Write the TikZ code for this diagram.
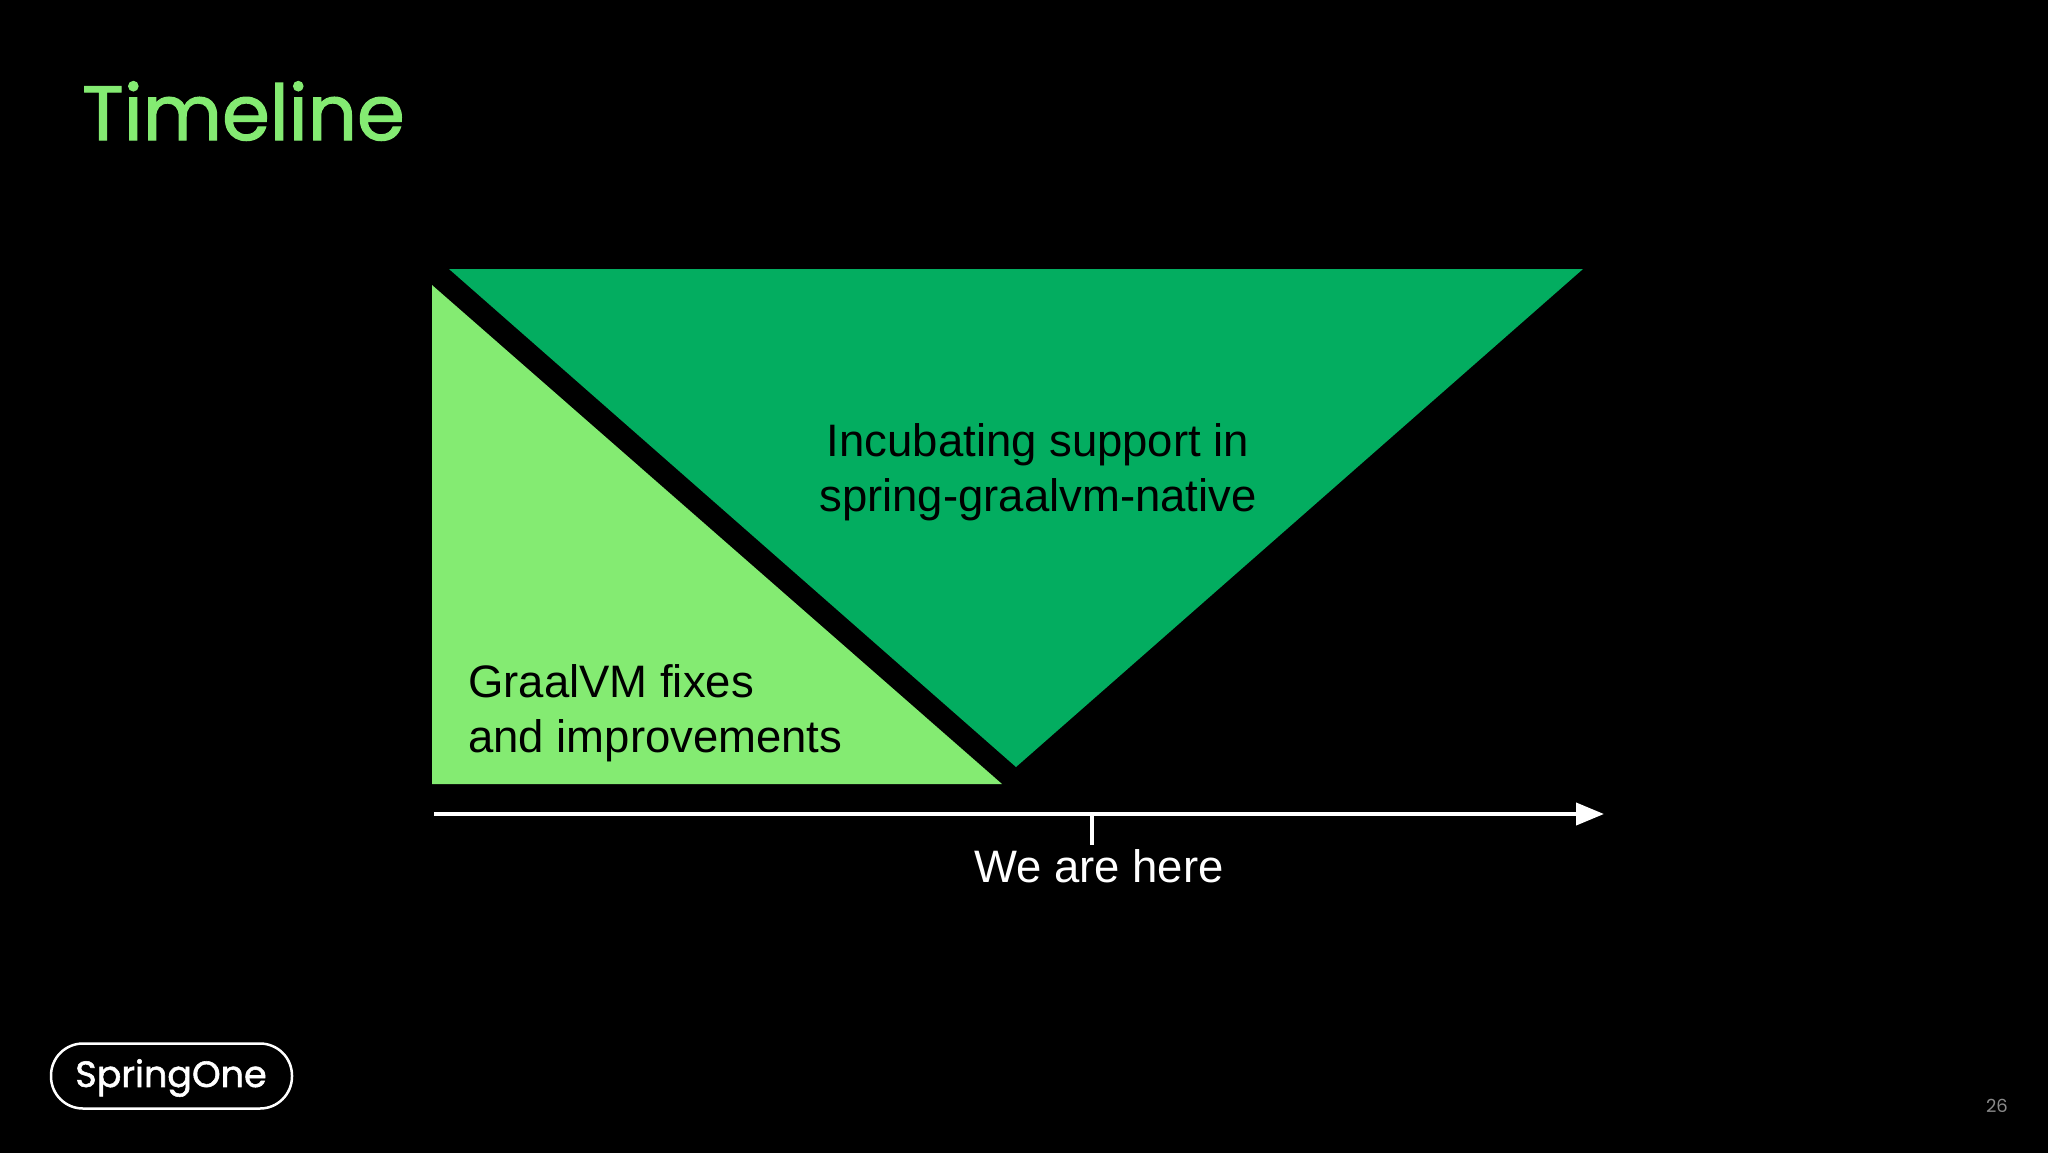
\documentclass[tikz,border=0pt]{standalone}
\usepackage{fontspec}
\setmainfont{Liberation Sans}
\newfontfamily\logofont[FakeBold = 1.5]{Poppins}
\newfontfamily\pagefont{Poppins}
\usetikzlibrary{arrows.meta}
\definecolor{lightgreen}{HTML}{84EB72}
\definecolor{darkgreen}{HTML}{03AD60}
\definecolor{pagegrey}{HTML}{8A8A8A}
\tikzset{
	slidetext/.style = {inner sep = 0, align = left, font = \fontsize{45.5}{55.5}\selectfont},
	axisline/.style = {draw = white, line width = 4pt},
}

\begin{document}
\begin{tikzpicture}[x = 1pt, y = -1pt]
		\useasboundingbox (0, 0) rectangle (2048, 1152);
		\fill [black] (-3, -3) rectangle (2051, 1155);
		%%%%%%%%%%%%%
		\node (title) [anchor = base west, inner sep = 0, text = lightgreen, font = \logofont\fontsize{77}{77}\selectfont] at (82, 140) {Timeline};
		%%%%%%%%%%%%%
		\coordinate (a1) at (432, 285); \coordinate (a2) at (432, 784); \coordinate (a3) at (1002, 784);
		\coordinate (b1) at (449, 269); \coordinate (b2) at (1583, 269); \coordinate (b3) at (1016, 767);
		\fill [lightgreen] (a1) -- (a2) -- (a3) -- cycle;
		\fill [darkgreen] (b1) -- (b2) -- (b3) -- cycle;
		\node (graal) [slidetext, anchor = north west] at (468, 664) {GraalVM fixes\\and improvements};
		\node (incub) [slidetext, align = center] at (1038, 472) {Incubating support in\\spring-graalvm-native};
		%%%%%%%%%%%%%
		\coordinate (t0) at (434, 814); \coordinate (t1) at (1604, 814);
		\coordinate (m0) at (1092, 816); \coordinate (m1) at (1092, 845);
		\draw [axisline, -{Triangle[length = 28pt, width = 22pt]}] (t0) to (t1);
		\draw [axisline] (m0) to (m1);
		\node (here) [slidetext, text = white, anchor = north] at (1099, 849) {We are here};
		%%%%%%%%%%%%%
		\node (logo) [draw = white, line width = 2.5pt, rounded corners = 32pt, minimum width = 241pt, minimum height = 65pt] at (171.5, 1076) {};
		\node (logotext) [inner sep = 0, text = white, font = \logofont\fontsize{36.5}{36.5}\selectfont] at (171, 1078) {SpringOne};
		\node (page) [inner sep = 0, text = pagegrey, font = \pagefont\fontsize{18}{18}\selectfont] at (1997, 1106) {26};
\end{tikzpicture}
\end{document}
